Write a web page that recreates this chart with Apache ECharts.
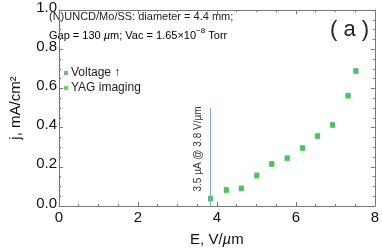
<!DOCTYPE html>
<html><head><meta charset="utf-8">
<script src="https://cdn.jsdelivr.net/npm/echarts@6/dist/echarts.min.js"></script>
<style>html,body{margin:0;padding:0;background:#fff}#c{width:382px;height:252px}</style>
</head><body><div id="c"></div>
<script>
const fieldE = [3.84, 4.24, 4.62, 5.01, 5.39, 5.78, 6.17, 6.55, 6.93, 7.32, 7.52];
const voltageUp = [0.040, 0.084, 0.092, 0.158, 0.217, 0.246, 0.298, 0.359, 0.416, 0.565, 0.691];
const yagImaging = [0.035, 0.079, 0.087, 0.153, 0.212, 0.241, 0.293, 0.354, 0.411, 0.560, 0.686];
const thresholdE = 3.84;
const thresholdTop = 0.50;
const xTicks = [0, 2, 4, 6, 8];
const yTicks = [0, 0.2, 0.4, 0.6, 0.8, 1.0];

const font = 'Liberation Sans, Arial, sans-serif';
const frameColor = '#777';
const chart = echarts.init(document.getElementById('c'));
const axisCommon = {
  type: 'value',
  axisLine: {show: true, onZero: false, lineStyle: {color: frameColor, width: 1}},
  axisTick: {show: true, inside: true, length: 4, lineStyle: {color: frameColor}},
  minorTick: {show: true, splitNumber: 4, length: 2, lineStyle: {color: frameColor}},
  splitLine: {show: false}
};
chart.setOption({
  animation: false,
  grid: {left: 46, right: 6, top: 5, bottom: 41},
  legend: {
    orient: 'vertical', left: 59, top: 62, itemWidth: 4, itemHeight: 4, itemGap: 3,
    icon: 'rect', textStyle: {fontFamily: font, fontSize: 12, color: '#222', padding: [0, 0, 0, -2]},
    data: ['Voltage ↑', 'YAG imaging']
  },
  xAxis: [
    Object.assign({}, axisCommon, {
      min: xTicks[0], max: xTicks[xTicks.length - 1], interval: 2, position: 'bottom',
      axisLabel: {fontFamily: font, fontSize: 15, color: '#111', margin: 4},
      name: '{a|E, V/}{i|µ}{a|m}', nameLocation: 'middle', nameGap: 26,
      nameTextStyle: {rich: {a: {fontFamily: font, fontSize: 15, color: '#111'}, i: {fontFamily: font, fontSize: 15, fontStyle: 'italic', color: '#111'}}}
    }),
    Object.assign({}, axisCommon, {
      min: 0, max: 8, interval: 2, position: 'top', axisLabel: {show: false}
    })
  ],
  yAxis: [
    Object.assign({}, axisCommon, {
      min: yTicks[0], max: yTicks[yTicks.length - 1], interval: 0.2, position: 'left',
      axisLabel: {fontFamily: font, fontSize: 15, color: '#111', margin: 2, formatter: v => v.toFixed(1), verticalAlign: 'bottom', padding: [0,0,-5,0]},
      name: 'j, mA/cm²', nameLocation: 'middle', nameGap: 36,
      nameTextStyle: {fontFamily: font, fontSize: 15, color: '#111'}
    }),
    Object.assign({}, axisCommon, {
      min: 0, max: 1, interval: 0.2, position: 'right', axisLabel: {show: false}
    })
  ],
  series: [
    {
      name: 'Voltage ↑', type: 'scatter', symbol: 'rect', symbolSize: 5,
      itemStyle: {color: '#5b8fc9'},
      data: fieldE.map((e, i) => [e, voltageUp[i]]),
      markLine: {
        silent: true, symbol: 'none', label: {show: false},
        lineStyle: {color: '#86a9d4', width: 1, type: 'solid'},
        data: [[{coord: [thresholdE, 0]}, {coord: [thresholdE, thresholdTop]}]]
      }
    },
    {
      name: 'YAG imaging', type: 'scatter', symbol: 'rect', symbolSize: 5,
      itemStyle: {color: '#3dcc3d'},
      data: fieldE.map((e, i) => [e, yagImaging[i]])
    }
  ],
  graphic: [
    {type: 'text', left: 49, top: 11, style: {text: '(N)UNCD/Mo/SS: diameter = 4.4 mm;', font: '11px ' + font, fill: '#222'}},
    {type: 'text', left: 49, top: 27, style: {
      text: '{a|Gap = 130 }{i|µ}{a|m; Vac = 1.65×10}{s|−8}{a| Torr}',
      rich: {
        a: {fontFamily: font, fontSize: 11, color: '#222', lineHeight: 14, verticalAlign: 'bottom'},
        i: {fontFamily: font, fontSize: 11, fontStyle: 'italic', color: '#222', lineHeight: 14, verticalAlign: 'bottom'},
        s: {fontFamily: font, fontSize: 8, color: '#222', lineHeight: 14, verticalAlign: 'top'}
      }
    }},
    {type: 'text', left: 330, top: 19, style: {text: '( a )', font: '22px ' + font, fill: '#222'}},
    {type: 'text', x: 198, y: 149, rotation: Math.PI / 2, style: {
      text: '3.5 µA @ 3.8 V/µm', font: '10px ' + font, fill: '#333', align: 'center', verticalAlign: 'middle'
    }}
  ]
});
</script></body></html>
